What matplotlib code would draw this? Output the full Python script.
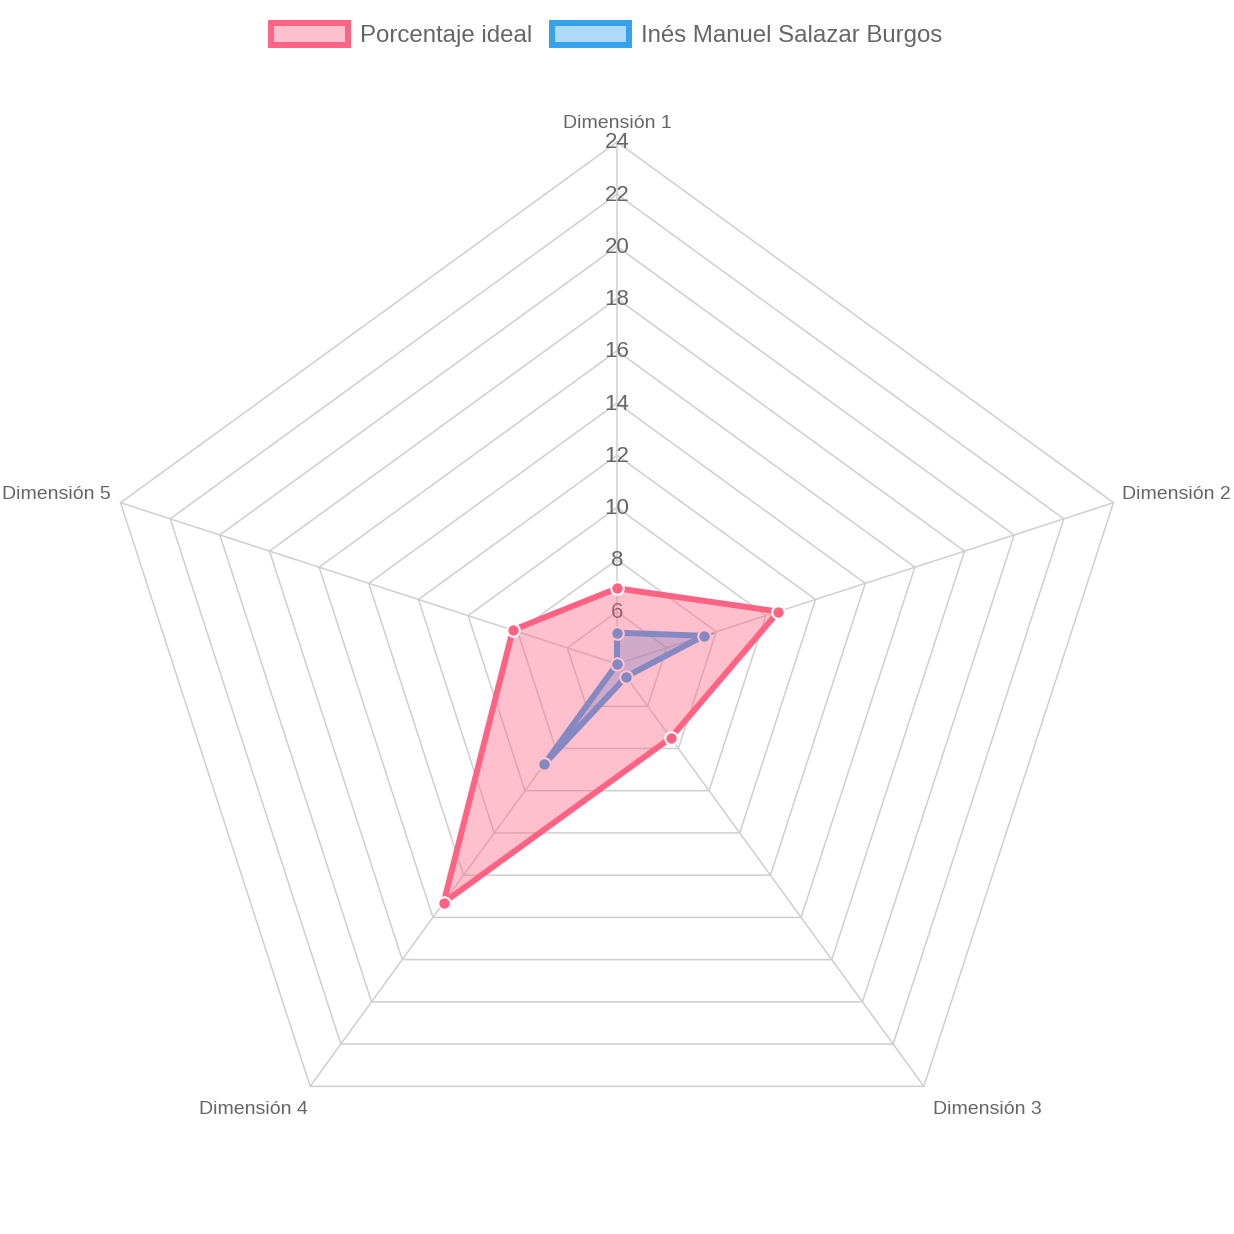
import numpy as np
import matplotlib
matplotlib.use("Agg")
import matplotlib.pyplot as plt
from matplotlib.patches import Patch

plt.rcParams['font.family'] = ['Liberation Sans', 'DejaVu Sans']

categories = ["Dimensión 1", "Dimensión 2", "Dimensión 3", "Dimensión 4", "Dimensión 5"]
ideal = [6.9, 10.5, 7.5, 15.3, 8.2]
person = [5.2, 7.5, 4.6, 8.75, 4.0]
series_names = ["Porcentaje ideal", "Inés Manuel Salazar Burgos"]
r_min, r_max, r_step = 4, 24, 2

W = 1234
fig = plt.figure(figsize=(W / 100, W / 100), dpi=100)
cx, cy, R = 617, 664, 522
ax = fig.add_axes([(cx - R) / W, (W - cy - R) / W, 2 * R / W, 2 * R / W], projection='polar')
ax.set_theta_offset(np.pi / 2)
ax.set_theta_direction(-1)
ax.set_ylim(r_min, r_max)
ax.set_axis_off()

n = len(categories)
theta = np.arange(n) * 2 * np.pi / n
theta_closed = np.append(theta, theta[0])

grid_col = '#cfcfcf'
ticks = np.arange(r_min + r_step, r_max + 0.1, r_step)
for t in ticks:
    ax.plot(theta_closed, [t] * (n + 1), color=grid_col, lw=1.1, zorder=1, clip_on=False)
for th in theta:
    ax.plot([th, th], [r_min, r_max], color=grid_col, lw=1.1, zorder=1, clip_on=False)

for t in ticks:
    ax.annotate(f"{int(t)}", xy=(0, t), xytext=(0, -1), textcoords='offset pixels',
                ha='center', va='center', color='#666666', fontsize=16, zorder=2,
                annotation_clip=False)

label_offsets = [(0, 14, 'center'), (9, 4, 'left'), (9, -28, 'left'), (-2, -28, 'right'), (-10, 4, 'right')]
for th, lab, (dx, dy, ha) in zip(theta, categories, label_offsets):
    ax.annotate(lab, xy=(th, r_max), xytext=(dx, dy), textcoords='offset pixels',
                ha=ha, va='baseline', color='#666666', fontsize=14, annotation_clip=False)

pink = (255 / 255, 99 / 255, 132 / 255)
blue = (54 / 255, 162 / 255, 235 / 255)

def draw(vals, col, z):
    v = np.append(vals, vals[0])
    ax.fill(theta_closed, v, color=col + (0.4,), lw=0, zorder=z)
    ax.plot(theta_closed, v, color=col, lw=4.3, zorder=z + 0.1, solid_joinstyle='miter', clip_on=False)
    ax.plot(theta, vals, 'o', color=col, ms=9, mec='white', mew=1.5, zorder=z + 0.2, clip_on=False)

draw(person, blue, 3)
draw(ideal, pink, 4)

handles = [Patch(facecolor=pink + (0.4,), edgecolor=pink, lw=4.3),
           Patch(facecolor=blue + (0.4,), edgecolor=blue, lw=4.3)]
fig.legend(handles, series_names, loc='center', bbox_to_anchor=(606.5 / W, 1 - 35 / W),
           ncol=2, frameon=False, fontsize=17.3, handlelength=3.2, handleheight=1.0,
           handletextpad=0.5, columnspacing=0.8, borderpad=0, labelcolor='#666666')

fig.savefig("out.png", dpi=100)
